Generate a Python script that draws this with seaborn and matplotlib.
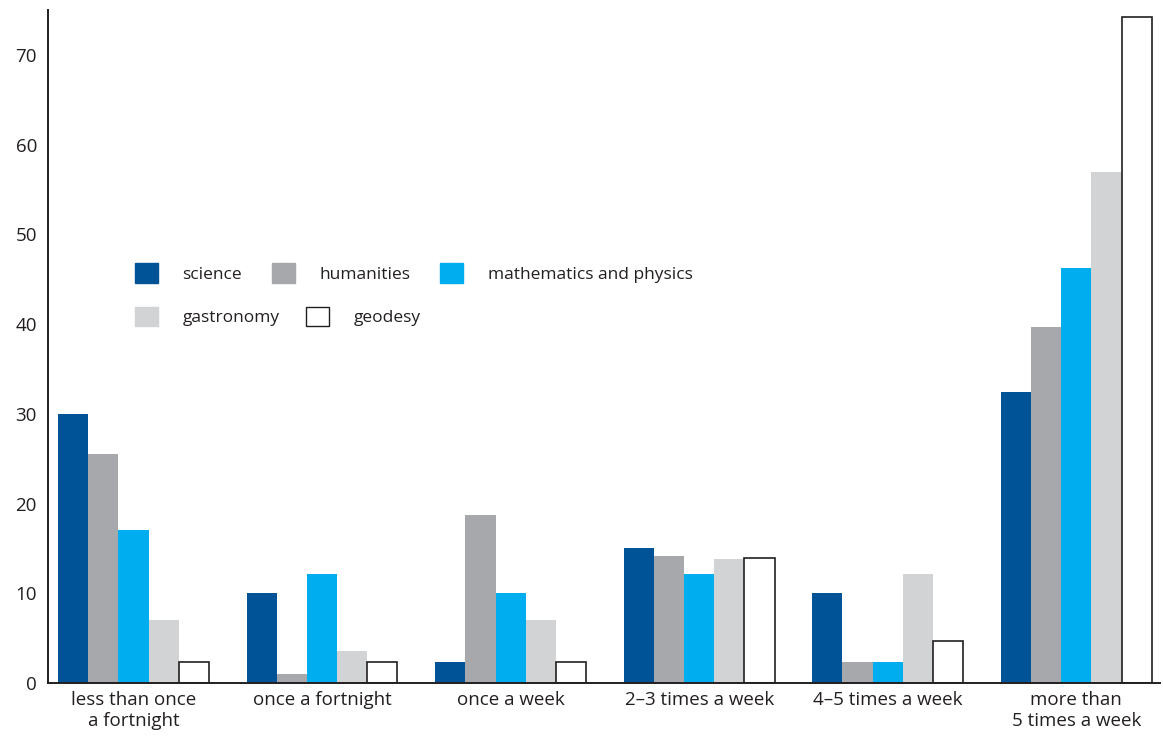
import matplotlib
matplotlib.use("Agg")
import matplotlib.pyplot as plt
import matplotlib.patches as mpatches
import pandas as pd
import seaborn as sns

# data
frequency = ["less than once\na fortnight", "once a fortnight", "once a week",
             "2–3 times a week", "4–5 times a week", "more than\n5 times a week"]
science = [30, 10, 2.3, 15, 10, 32.4]
humanities = [25.5, 1, 18.7, 14.2, 2.3, 39.7]
maths_physics = [17, 12.2, 10, 12.2, 2.3, 46.3]
gastronomy = [7, 3.6, 7, 13.8, 12.2, 56.9]
geodesy = [2.3, 2.3, 2.3, 13.9, 4.7, 74.2]

fields = ["science", "humanities", "mathematics and physics", "gastronomy", "geodesy"]
colors = ["#005396", "#a7a8ab", "#00adee", "#d1d3d4", "#ffffff"]

rows = []
for name, vals in zip(fields, [science, humanities, maths_physics, gastronomy, geodesy]):
    for f, v in zip(frequency, vals):
        rows.append({"frequency": f, "field": name, "value": v})
df = pd.DataFrame(rows)

sns.set_style("white")
plt.rcParams["font.family"] = ["Open Sans", "DejaVu Sans"]
text_col = "#231f20"

fig = plt.figure(figsize=(11.63, 7.36), dpi=100)
ax = fig.add_axes([0.0413, 0.072, 0.956, 0.9144])

sns.barplot(data=df, x="frequency", y="value", hue="field", order=frequency,
            hue_order=fields, palette=colors, width=0.8, saturation=1,
            linewidth=0, ax=ax, legend=False)

# geodesy bars are outlined
for bar in ax.containers[4]:
    bar.set_edgecolor("#231f20")
    bar.set_linewidth(1.2)

ax.set_xlim(-0.453, 5.443)
ax.set_ylim(0, 75)
ax.set_xlabel("")
ax.set_ylabel("")
ax.set_yticks(range(0, 71, 10))

for side in ["top", "right"]:
    ax.spines[side].set_visible(False)
for side in ["left", "bottom"]:
    ax.spines[side].set_color(text_col)
    ax.spines[side].set_linewidth(1.4)

ax.tick_params(axis="y", direction="in", length=19, width=1.1, color=text_col,
               labelsize=13.5, labelcolor=text_col, pad=8)
ax.tick_params(axis="x", which="major", length=0, labelsize=13.5,
               labelcolor=text_col, pad=6)
ax.set_xticks([i + 0.52 for i in range(5)], minor=True)
ax.tick_params(axis="x", which="minor", direction="in", length=7, width=1.1, color=text_col)


def patch(i):
    edge = "#231f20" if colors[i] == "#ffffff" else colors[i]
    return mpatches.Patch(facecolor=colors[i], edgecolor=edge, linewidth=1)


# legend in two flowing rows
leg_kw = dict(loc="upper left", frameon=False, fontsize=12.5, handlelength=1.35,
              handleheight=1.35, handletextpad=1.4)
leg1 = ax.legend([patch(i) for i in [0, 1, 2]], fields[:3], ncol=3,
                 bbox_to_anchor=(0.064, 0.647), columnspacing=1.7, **leg_kw)
ax.add_artist(leg1)
leg2 = ax.legend([patch(i) for i in [3, 4]], fields[3:], ncol=2,
                 bbox_to_anchor=(0.064, 0.582), columnspacing=1.5, **leg_kw)
for leg in [leg1, leg2]:
    for t in leg.get_texts():
        t.set_color(text_col)

fig.savefig("out.png", dpi=100)
